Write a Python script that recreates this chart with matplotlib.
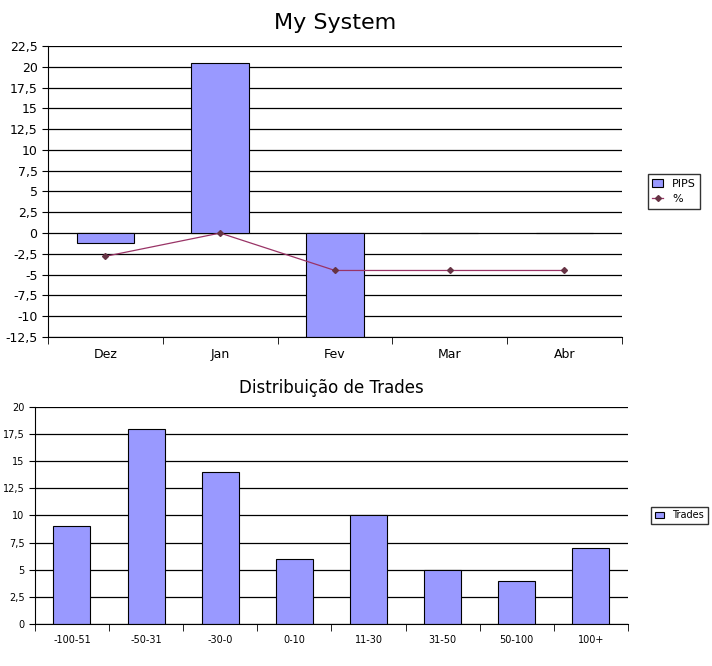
import numpy as np
import matplotlib.pyplot as plt
from matplotlib.ticker import FixedLocator, FuncFormatter

# ============================================================
# Data
# ============================================================

months = ["Dez", "Jan", "Fev", "Mar", "Abr"]
pips = [-1.2, 20.5, -12.5, 0, 0]
pct = [-2.8, 0.0, -4.5, -4.5, -4.5]

ranges = ["-100-51", "-50-31", "-30-0", "0-10", "11-30", "31-50", "50-100", "100+"]
trades = [9, 18, 14, 6, 10, 5, 4, 7]

BAR = "#9999FF"
LINE = "#993366"


def comma(v, _):
    s = f"{v:g}"
    return s.replace(".", ",")


def style_axes(ax, n, ymin, ymax, step, fs):
    ax.set_xlim(-0.5, n - 0.5)
    ax.set_ylim(ymin, ymax)
    ticks = np.arange(ymin, ymax + step / 2, step)
    ax.set_yticks(ticks)
    ax.yaxis.set_major_formatter(FuncFormatter(comma))
    ax.yaxis.grid(True, color="black", linewidth=0.9)
    ax.set_axisbelow(True)
    for side in ("top", "right"):
        ax.spines[side].set_visible(False)
    ax.set_xticks(range(n))
    ax.tick_params(axis="x", length=0, labelsize=fs, pad=8)
    ax.xaxis.set_minor_locator(FixedLocator(np.arange(-0.5, n, 1.0)))
    ax.tick_params(axis="x", which="minor", length=5, direction="out")
    ax.tick_params(axis="y", labelsize=fs, length=4, direction="out")


fig = plt.figure(figsize=(7.12, 6.66), dpi=100)

# ------------------------------------------
# Top chart
# ------------------------------------------

ax1 = fig.add_axes([0.0674, 0.494, 0.806, 0.437])
x = np.arange(len(months))
b1 = ax1.bar(x, pips, width=0.5, color=BAR, edgecolor="black", linewidth=0.8, label="PIPS", zorder=2)
l1, = ax1.plot(x, pct, color=LINE, linewidth=0.9, marker="D", markersize=3,
               markerfacecolor="#663344", markeredgecolor="#663344", label="%", zorder=3)
style_axes(ax1, len(months), -12.5, 22.5, 2.5, 9)
ax1.set_xticklabels(months)
ax1.set_title("My System", fontsize=16, pad=12)
ax1.legend([b1, l1], ["PIPS", "%"], loc="center left", bbox_to_anchor=(1.035, 0.5),
           fontsize=8, frameon=True, fancybox=False, edgecolor="black",
           handlelength=1, borderpad=0.4)

# ------------------------------------------
# Bottom chart
# ------------------------------------------

ax2 = fig.add_axes([0.049, 0.063, 0.833, 0.326])
x2 = np.arange(len(ranges))
ax2.bar(x2, trades, width=0.5, color=BAR, edgecolor="black", linewidth=0.8, label="Trades", zorder=2)
style_axes(ax2, len(ranges), 0, 20, 2.5, 7)
ax2.set_xticklabels(ranges)
ax2.set_title("Distribuição de Trades", fontsize=12, pad=10)
ax2.legend(loc="center left", bbox_to_anchor=(1.03, 0.5), fontsize=7, frameon=True,
           fancybox=False, edgecolor="black", handlelength=1, borderpad=0.4)

fig.savefig("out.png", dpi=100)
